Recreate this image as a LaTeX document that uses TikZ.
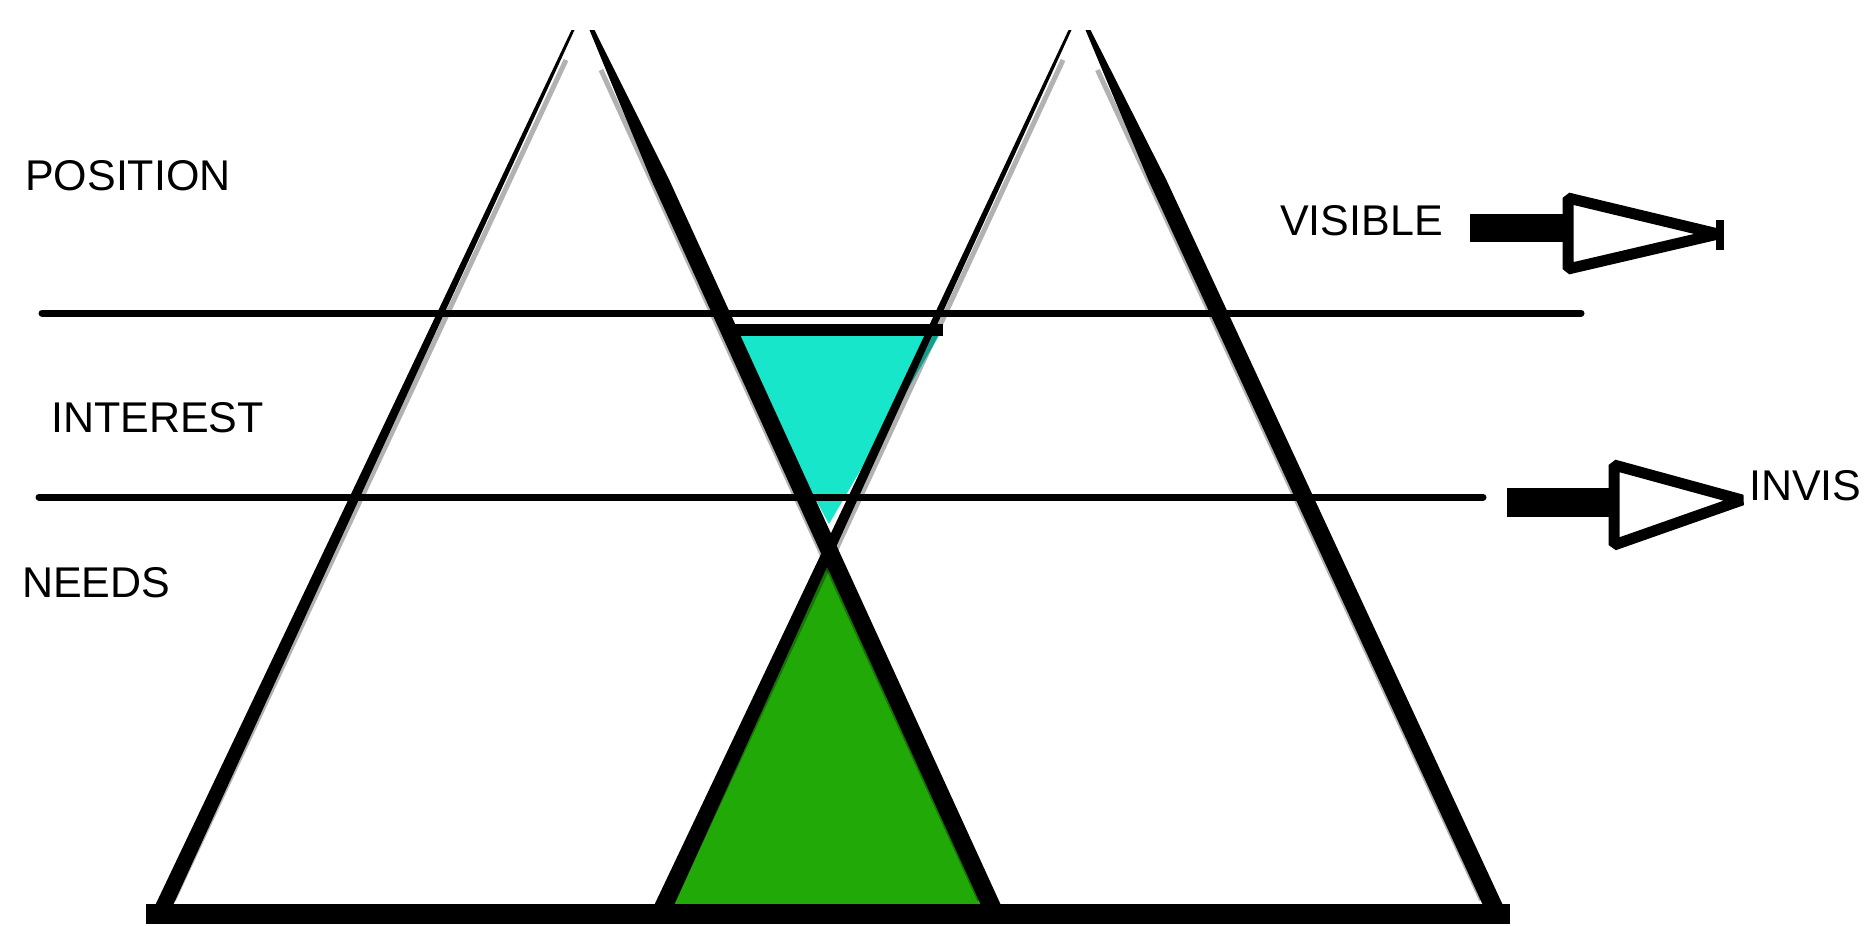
\documentclass[tikz,border=0pt]{standalone}
\usepackage{fontspec}
\setmainfont{Liberation Sans}
\definecolor{cyanfill}{HTML}{17E6CB}
\definecolor{greenfill}{HTML}{21A908}
\newcommand\edgestroke[6]{\fill[ink] (#1-#3,#2) -- (#1+#3,#2) -- (#4+#6,#5) -- (#4-#6,#5) -- cycle;}
\tikzset{
  lbl/.style={anchor=base west, inner sep=0pt, font=\fontsize{43}{50}\selectfont},
  rulebar/.style={line width=7pt, line cap=round},
  ink/.style={fill=black},
  sketchline/.style={draw=black, line width=5pt, opacity=0.3},
  headline/.style={draw=black, line width=11pt, line join=bevel},
}
\begin{document}
\begin{tikzpicture}[x=1pt,y=-1pt]
\useasboundingbox (0,0) rectangle (1871,926);
% fills
\fill[cyanfill] (725,334) -- (940,334) -- (829,524) -- cycle;
\fill[greenfill] (829,552) -- (664,908) -- (991,908) -- cycle;
% corners
\coordinate (L-top) at (580,28);
\coordinate (R-top) at (1080,28);
% left triangle edges
\edgestroke{573}{30}{1.5}{366.5}{472}{5}
\edgestroke{366.5}{472}{5}{160}{914}{9}
\edgestroke{592}{30}{2.5}{660.3}{180}{9}
\edgestroke{660.3}{180}{9}{995}{914}{10}
% right triangle edges
\edgestroke{1070}{30}{1.5}{865}{472}{5}
\edgestroke{865}{472}{5}{660}{914}{10}
\edgestroke{1088}{30}{2.5}{1157.4}{180}{9}
\edgestroke{1157.4}{180}{9}{1497}{914}{10}
% sketchy fuzz next to the strokes
\draw[sketchline] (566,60) -- (173.5,900);
\draw[sketchline] (601,70) -- (979.6,900);
\draw[sketchline] (1063,60) -- (673.5,900);
\draw[sketchline] (1097.5,70) -- (1481.5,900);
% base
\fill[ink] (146,904) rectangle (1510,924);
% cyan triangle top
\draw[line width=12pt] (728,330) -- (943,330);
% horizontal rules
\draw[rulebar] (42,313) -- (1581,313);
\draw[rulebar] (39,497) -- (1483,497);
% labels
\node[lbl] (pos) at (25,190) {POSITION};
\node[lbl] (int) at (51,432) {INTEREST};
\node[lbl] (need) at (22,597) {NEEDS};
\node[lbl] (vis) at (1280,235) {VISIBLE};
\node[lbl] (invis) at (1749,500) {INVIS};
% visible arrow
\fill[ink] (1470,214) rectangle (1572,242);
\draw[headline] (1568,198) -- (1718,234) -- (1568,269) -- cycle;
\draw[line width=8pt] (1720,220) -- (1720,250);
% invisible arrow
\fill[ink] (1507,488) rectangle (1615,517);
\draw[headline] (1614,465) -- (1742,500) -- (1614,545) -- cycle;
\end{tikzpicture}
\end{document}
